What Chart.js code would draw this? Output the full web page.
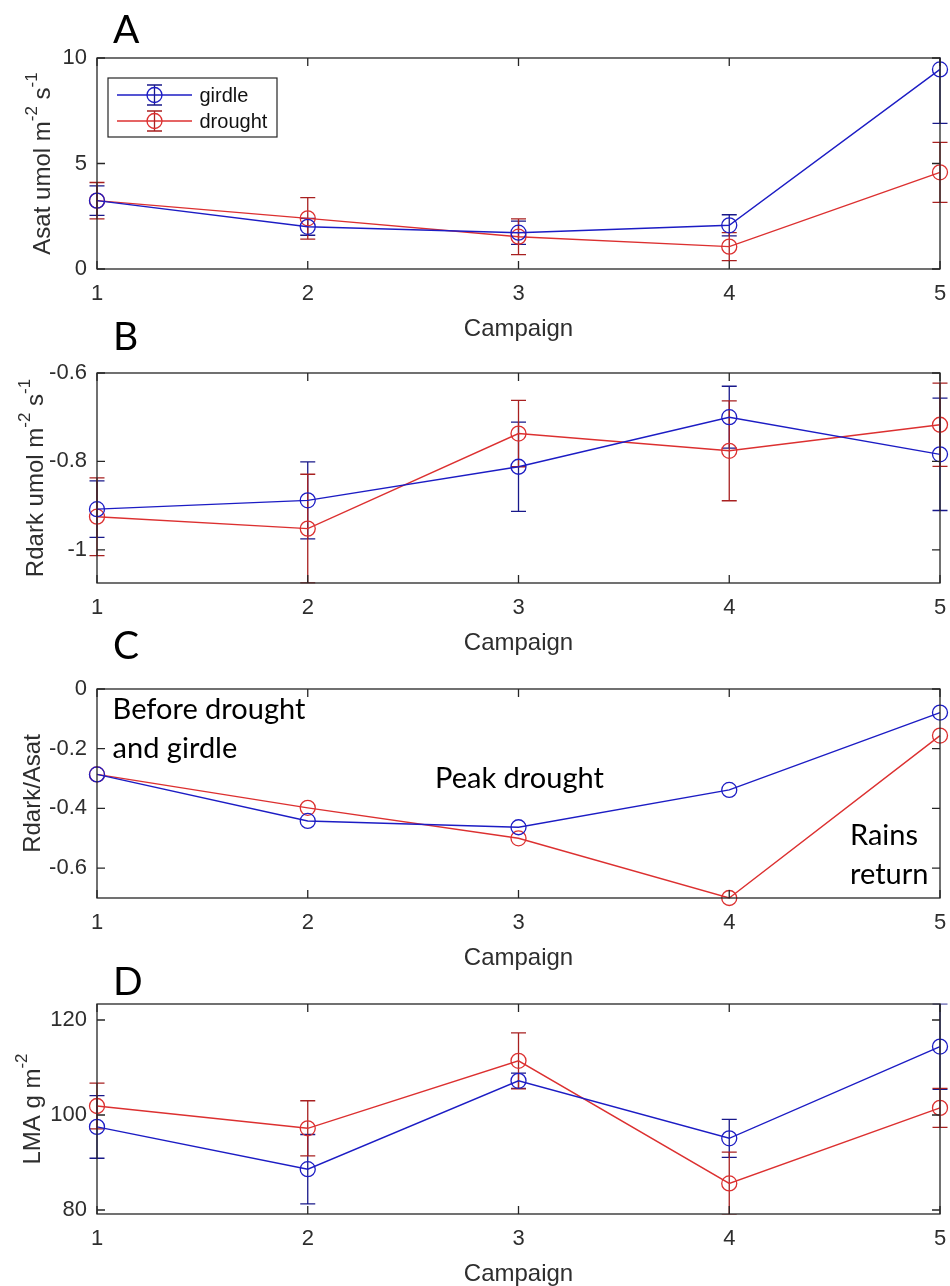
<!DOCTYPE html>
<html>
<head>
<meta charset="utf-8">
<title>Campaign panels</title>
<script src="https://cdn.jsdelivr.net/npm/chart.js@4.4.1/dist/chart.umd.min.js"></script>
<style>
  html, body { margin: 0; padding: 0; background: #fff; }
  #page { position: relative; width: 950px; height: 1286px; overflow: hidden; background: #fff; }
  #page canvas { position: absolute; left: 0; }
</style>
</head>
<body>
<div id="page">
  <canvas id="panelA"></canvas>
  <canvas id="panelB"></canvas>
  <canvas id="panelC"></canvas>
  <canvas id="panelD"></canvas>
</div>
<script>
// ---- data ----
const campaigns = [1, 2, 3, 4, 5];
const seriesNames = ['girdle', 'drought'];

const asatGirdle = [3.24, 2.0, 1.72, 2.07, 9.46];
const asatGirdleErr = [0.7, 0.4, 0.55, 0.5, 2.56];
const asatDrought = [3.24, 2.4, 1.53, 1.06, 4.58];
const asatDroughtErr = [0.86, 0.98, 0.85, 0.66, 1.42];

const rdarkGirdle = [-0.908, -0.888, -0.812, -0.700, -0.784];
const rdarkGirdleErr = [0.064, 0.087, 0.101, 0.070, 0.127];
const rdarkDrought = [-0.925, -0.952, -0.737, -0.776, -0.717];
const rdarkDroughtErr = [0.088, 0.123, 0.075, 0.113, 0.094];

const ratioGirdle = [-0.286, -0.442, -0.463, -0.338, -0.079];
const ratioDrought = [-0.286, -0.398, -0.500, -0.700, -0.156];

const lmaGirdle = [97.5, 88.6, 107.2, 95.1, 114.4];
const lmaGirdleErr = [6.6, 7.3, 1.6, 4.0, 9.0];
const lmaDrought = [101.9, 97.2, 111.4, 85.6, 101.5];
const lmaDroughtErr = [4.8, 5.8, 5.9, 6.6, 4.1];

const campaignTicks = [1, 2, 3, 4, 5];
const asatTicks = [0, 5, 10];
const rdarkTicks = [-1, -0.8, -0.6];
const ratioTicks = [-0.6, -0.4, -0.2, 0];
const lmaTicks = [80, 100, 120];

const ratioNotes = ['Before drought', 'and girdle', 'Peak drought', 'Rains', 'return'];

// ---- look ----
const SANS = '"Liberation Sans", Arial, sans-serif';
const NOTE_FONT = 'Lato, "Open Sans", sans-serif';
const AXIS = '#262626';
const TEXT = '#2e2e2e';
const BLUE = '#1c1cc4', BLUE_ERR = '#18188a';
const RED = '#dc3030', RED_ERR = '#a82020';
const X_AXIS_H = 76;

function series(vals, errs, i) {
  const blue = i === 0;
  return {
    label: seriesNames[i],
    data: campaigns.map((c, k) => ({ x: c, y: vals[k] })),
    errors: errs,
    errorColor: blue ? BLUE_ERR : RED_ERR,
    showLine: true,
    borderColor: blue ? BLUE : RED,
    borderWidth: 1.4,
    pointRadius: 7.5,
    pointBorderWidth: 1.3,
    pointBorderColor: blue ? BLUE : RED,
    pointBackgroundColor: 'rgba(0,0,0,0)',
    pointStyle: 'circle',
    tension: 0,
    clip: false
  };
}

function drawYTitle(ctx, parts, baseX, midY) {
  ctx.save();
  ctx.translate(baseX, midY);
  ctx.rotate(-Math.PI / 2);
  ctx.fillStyle = TEXT;
  ctx.textBaseline = 'alphabetic';
  ctx.textAlign = 'left';
  let total = 0;
  const widths = parts.map(p => {
    ctx.font = (p.sup ? '17px ' : '24px ') + SANS;
    const w = ctx.measureText(p.t).width;
    total += w;
    return w;
  });
  let cx = -total / 2;
  parts.forEach((p, i) => {
    ctx.font = (p.sup ? '17px ' : '24px ') + SANS;
    ctx.fillText(p.t, cx, p.sup ? -13 : 0);
    cx += widths[i];
  });
  ctx.restore();
}

function makeLook(cfg) {
  return {
    id: 'matlabLook',
    beforeDatasetsDraw(chart) {
      const { ctx, chartArea: a, scales: { x, y } } = chart;
      ctx.save();
      ctx.beginPath();
      ctx.rect(0, a.top - 0.5, chart.width, a.bottom - a.top + 1);
      ctx.clip();
      ctx.lineWidth = 1.3;
      chart.data.datasets.forEach(ds => {
        if (!ds.errors) return;
        ctx.strokeStyle = ds.errorColor;
        ds.data.forEach((p, i) => {
          const px = x.getPixelForValue(p.x);
          const hi = y.getPixelForValue(p.y + ds.errors[i]);
          const lo = y.getPixelForValue(p.y - ds.errors[i]);
          ctx.beginPath();
          ctx.moveTo(px, hi); ctx.lineTo(px, lo);
          ctx.moveTo(px - 7.5, hi); ctx.lineTo(px + 7.5, hi);
          ctx.moveTo(px - 7.5, lo); ctx.lineTo(px + 7.5, lo);
          ctx.stroke();
        });
      });
      ctx.restore();
    },
    afterDatasetsDraw(chart) {
      const { ctx, chartArea: a, scales: { x, y } } = chart;
      ctx.save();
      // axes box with inward ticks on all four sides
      ctx.strokeStyle = AXIS;
      ctx.lineWidth = 1.3;
      ctx.strokeRect(a.left, a.top, a.right - a.left, a.bottom - a.top);
      ctx.beginPath();
      campaignTicks.forEach(v => {
        const px = x.getPixelForValue(v);
        ctx.moveTo(px, a.bottom); ctx.lineTo(px, a.bottom - 8);
        ctx.moveTo(px, a.top); ctx.lineTo(px, a.top + 8);
      });
      cfg.yTicks.forEach(v => {
        const py = y.getPixelForValue(v);
        ctx.moveTo(a.left, py); ctx.lineTo(a.left + 8, py);
        ctx.moveTo(a.right, py); ctx.lineTo(a.right - 8, py);
      });
      ctx.stroke();

      drawYTitle(ctx, cfg.yTitle, cfg.titleX, (a.top + a.bottom) / 2);

      // panel letter (letterBase is a page position)
      ctx.fillStyle = '#000';
      ctx.font = '39px ' + NOTE_FONT;
      ctx.textAlign = 'left';
      ctx.textBaseline = 'alphabetic';
      ctx.fillText(cfg.letter, 113, cfg.letterBase - cfg.top);

      // text notes placed in data units
      if (cfg.notes) {
        ctx.font = '29px ' + NOTE_FONT;
        cfg.notes.forEach(n => {
          ctx.fillText(n.text, x.getPixelForValue(n.x), y.getPixelForValue(n.y));
        });
      }

      // legend with errorbar glyphs
      if (cfg.legend) {
        const L = a.left + 11, T = a.top + 20, W = 169, H = 59;
        ctx.fillStyle = '#fff';
        ctx.fillRect(L, T, W, H);
        ctx.strokeStyle = AXIS;
        ctx.lineWidth = 1.2;
        ctx.strokeRect(L, T, W, H);
        chart.data.datasets.forEach((ds, i) => {
          const cy = T + 17 + i * 26;
          const mx = L + 46.5;
          ctx.strokeStyle = ds.borderColor;
          ctx.lineWidth = 1.4;
          ctx.beginPath();
          ctx.moveTo(L + 9, cy); ctx.lineTo(L + 84, cy);
          ctx.stroke();
          ctx.strokeStyle = ds.errorColor;
          ctx.lineWidth = 1.3;
          ctx.beginPath();
          ctx.moveTo(mx, cy - 10); ctx.lineTo(mx, cy + 10);
          ctx.moveTo(mx - 7.5, cy - 10); ctx.lineTo(mx + 7.5, cy - 10);
          ctx.moveTo(mx - 7.5, cy + 10); ctx.lineTo(mx + 7.5, cy + 10);
          ctx.stroke();
          ctx.strokeStyle = ds.borderColor;
          ctx.beginPath();
          ctx.arc(mx, cy, 7.5, 0, Math.PI * 2);
          ctx.stroke();
          ctx.fillStyle = '#111';
          ctx.font = '20px ' + SANS;
          ctx.textBaseline = 'middle';
          ctx.fillText(ds.label, L + 91.5, cy + 1);
        });
      }
      ctx.restore();
    }
  };
}

function makePanel(id, cfg) {
  const canvas = document.getElementById(id);
  canvas.width = 950;
  canvas.height = cfg.plotBottom - cfg.top + X_AXIS_H;
  canvas.style.top = cfg.top + 'px';
  return new Chart(canvas, {
    type: 'scatter',
    data: {
      datasets: [
        series(cfg.girdle, cfg.girdleErr, 0),
        series(cfg.drought, cfg.droughtErr, 1)
      ]
    },
    options: {
      responsive: false,
      animation: false,
      devicePixelRatio: 1,
      layout: { padding: { top: cfg.plotTop - cfg.top, left: 0, right: 10, bottom: 0 } },
      scales: {
        x: {
          type: 'linear',
          min: 1,
          max: 5,
          afterBuildTicks: s => { s.ticks = campaignTicks.map(v => ({ value: v })); },
          afterFit: s => { s.height = X_AXIS_H; s.paddingLeft = 0; s.paddingRight = 0; },
          grid: { display: false, drawTicks: false },
          border: { display: false },
          ticks: {
            padding: 12,
            color: TEXT,
            maxRotation: 0,
            autoSkip: false,
            font: { family: SANS, size: 22 },
            callback: v => String(v)
          },
          title: {
            display: true,
            text: 'Campaign',
            color: TEXT,
            font: { family: SANS, size: 24 },
            padding: { top: 0, bottom: 1 }
          }
        },
        y: {
          min: cfg.yMin,
          max: cfg.yMax,
          afterBuildTicks: s => { s.ticks = cfg.yTicks.map(v => ({ value: v })); },
          afterFit: s => { s.width = 97; s.paddingTop = 0; s.paddingBottom = 0; },
          grid: { display: false, drawTicks: false },
          border: { display: false },
          ticks: {
            padding: 10,
            color: TEXT,
            autoSkip: false,
            font: { family: SANS, size: 22 },
            callback: v => String(v)
          }
        }
      },
      plugins: {
        legend: { display: false },
        tooltip: { enabled: false }
      }
    },
    plugins: [makeLook(cfg)]
  });
}

makePanel('panelA', {
  top: 0, plotTop: 58, plotBottom: 269,
  yMin: 0, yMax: 10, yTicks: asatTicks,
  girdle: asatGirdle, girdleErr: asatGirdleErr,
  drought: asatDrought, droughtErr: asatDroughtErr,
  letter: 'A', letterBase: 43, titleX: 50,
  yTitle: [{ t: 'Asat umol m' }, { t: '-2', sup: true }, { t: ' s' }, { t: '-1', sup: true }],
  legend: true
});

makePanel('panelB', {
  top: 315, plotTop: 373, plotBottom: 583,
  yMin: -1.075, yMax: -0.6, yTicks: rdarkTicks,
  girdle: rdarkGirdle, girdleErr: rdarkGirdleErr,
  drought: rdarkDrought, droughtErr: rdarkDroughtErr,
  letter: 'B', letterBase: 350, titleX: 43,
  yTitle: [{ t: 'Rdark umol m' }, { t: '-2', sup: true }, { t: ' s' }, { t: '-1', sup: true }]
});

makePanel('panelC', {
  top: 631, plotTop: 689, plotBottom: 898,
  yMin: -0.7, yMax: 0, yTicks: ratioTicks,
  girdle: ratioGirdle, girdleErr: null,
  drought: ratioDrought, droughtErr: null,
  letter: 'C', letterBase: 659, titleX: 40,
  yTitle: [{ t: 'Rdark/Asat' }],
  notes: [
    { text: ratioNotes[0], x: 1.074, y: -0.102 },
    { text: ratioNotes[1], x: 1.074, y: -0.231 },
    { text: ratioNotes[2], x: 2.604, y: -0.332 },
    { text: ratioNotes[3], x: 4.573, y: -0.523 },
    { text: ratioNotes[4], x: 4.573, y: -0.653 }
  ]
});

makePanel('panelD', {
  top: 946, plotTop: 1004, plotBottom: 1214,
  yMin: 79.16, yMax: 123.37, yTicks: lmaTicks,
  girdle: lmaGirdle, girdleErr: lmaGirdleErr,
  drought: lmaDrought, droughtErr: lmaDroughtErr,
  letter: 'D', letterBase: 995, titleX: 40,
  yTitle: [{ t: 'LMA g m' }, { t: '-2', sup: true }]
});
</script>
</body>
</html>
